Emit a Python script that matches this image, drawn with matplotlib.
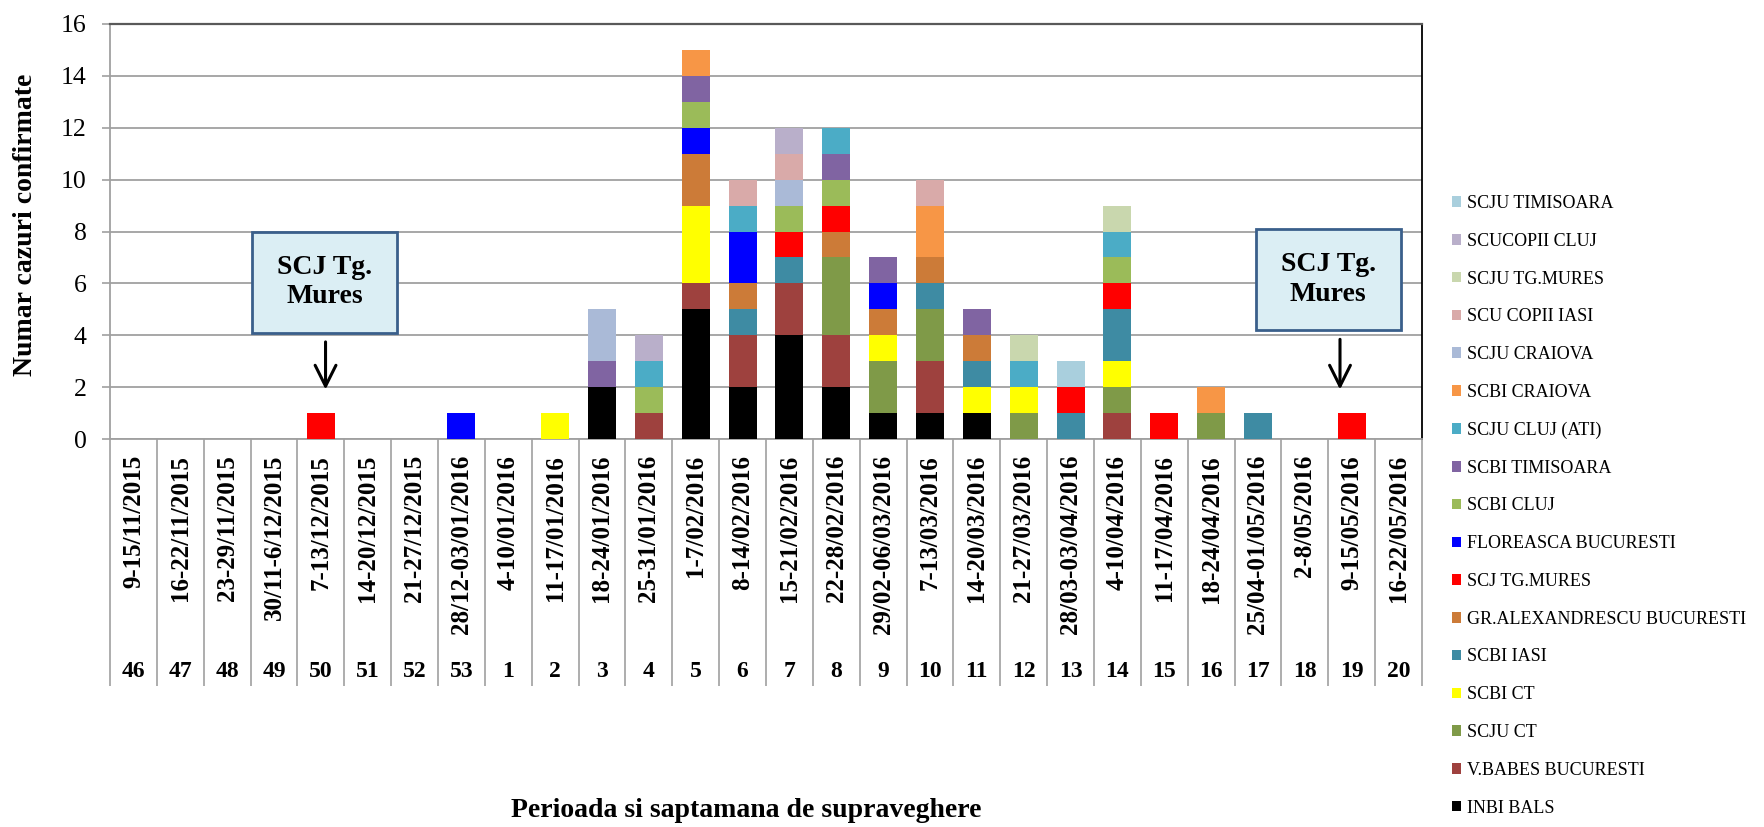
import numpy as np
import matplotlib
matplotlib.use('Agg')
import matplotlib.pyplot as plt
from matplotlib.patches import Rectangle, Patch
from matplotlib.transforms import blended_transform_factory

# surveillance weeks and periods (46/2015 .. 20/2016)
weeks = ['46', '47', '48', '49', '50', '51', '52', '53', '1', '2', '3', '4', '5', '6',
         '7', '8', '9', '10', '11', '12', '13', '14', '15', '16', '17', '18', '19', '20']
periods = ['9-15/11/2015', '16-22/11/2015', '23-29/11/2015', '30/11-6/12/2015',
           '7-13/12/2015', '14-20/12/2015', '21-27/12/2015', '28/12-03/01/2016',
           '4-10/01/2016', '11-17/01/2016', '18-24/01/2016', '25-31/01/2016',
           '1-7/02/2016', '8-14/02/2016', '15-21/02/2016', '22-28/02/2016',
           '29/02-06/03/2016', '7-13/03/2016', '14-20/03/2016', '21-27/03/2016',
           '28/03-03/04/2016', '4-10/04/2016', '11-17/04/2016', '18-24/04/2016',
           '25/04-01/05/2016', '2-8/05/2016', '9-15/05/2016', '16-22/05/2016']

# confirmed cases per hospital, stacked bottom -> top
inbi_bals      = [0, 0, 0, 0, 0, 0, 0, 0, 0, 0, 2, 0, 5, 2, 4, 2, 1, 1, 1, 0, 0, 0, 0, 0, 0, 0, 0, 0]
vbabes         = [0, 0, 0, 0, 0, 0, 0, 0, 0, 0, 0, 1, 1, 2, 2, 2, 0, 2, 0, 0, 0, 1, 0, 0, 0, 0, 0, 0]
scju_ct        = [0, 0, 0, 0, 0, 0, 0, 0, 0, 0, 0, 0, 0, 0, 0, 3, 2, 2, 0, 1, 0, 1, 0, 1, 0, 0, 0, 0]
scbi_ct        = [0, 0, 0, 0, 0, 0, 0, 0, 0, 1, 0, 0, 3, 0, 0, 0, 1, 0, 1, 1, 0, 1, 0, 0, 0, 0, 0, 0]
scbi_iasi      = [0, 0, 0, 0, 0, 0, 0, 0, 0, 0, 0, 0, 0, 1, 1, 0, 0, 1, 1, 0, 1, 2, 0, 0, 1, 0, 0, 0]
gr_alexandrescu = [0, 0, 0, 0, 0, 0, 0, 0, 0, 0, 0, 0, 2, 1, 0, 1, 1, 1, 1, 0, 0, 0, 0, 0, 0, 0, 0, 0]
scj_tgmures    = [0, 0, 0, 0, 1, 0, 0, 0, 0, 0, 0, 0, 0, 0, 1, 1, 0, 0, 0, 0, 1, 1, 1, 0, 0, 0, 1, 0]
floreasca      = [0, 0, 0, 0, 0, 0, 0, 1, 0, 0, 0, 0, 1, 2, 0, 0, 1, 0, 0, 0, 0, 0, 0, 0, 0, 0, 0, 0]
scbi_cluj      = [0, 0, 0, 0, 0, 0, 0, 0, 0, 0, 0, 1, 1, 0, 1, 1, 0, 0, 0, 0, 0, 1, 0, 0, 0, 0, 0, 0]
scbi_timisoara = [0, 0, 0, 0, 0, 0, 0, 0, 0, 0, 1, 0, 1, 0, 0, 1, 1, 0, 1, 0, 0, 0, 0, 0, 0, 0, 0, 0]
scju_cluj_ati  = [0, 0, 0, 0, 0, 0, 0, 0, 0, 0, 0, 1, 0, 1, 0, 1, 0, 0, 0, 1, 0, 1, 0, 0, 0, 0, 0, 0]
scbi_craiova   = [0, 0, 0, 0, 0, 0, 0, 0, 0, 0, 0, 0, 1, 0, 0, 0, 0, 2, 0, 0, 0, 0, 0, 1, 0, 0, 0, 0]
scju_craiova   = [0, 0, 0, 0, 0, 0, 0, 0, 0, 0, 2, 0, 0, 0, 1, 0, 0, 0, 0, 0, 0, 0, 0, 0, 0, 0, 0, 0]
scu_copii_iasi = [0, 0, 0, 0, 0, 0, 0, 0, 0, 0, 0, 0, 0, 1, 1, 0, 0, 1, 0, 0, 0, 0, 0, 0, 0, 0, 0, 0]
scju_tgmures   = [0, 0, 0, 0, 0, 0, 0, 0, 0, 0, 0, 0, 0, 0, 0, 0, 0, 0, 0, 1, 0, 1, 0, 0, 0, 0, 0, 0]
scu_copii_cluj = [0, 0, 0, 0, 0, 0, 0, 0, 0, 0, 0, 1, 0, 0, 1, 0, 0, 0, 0, 0, 0, 0, 0, 0, 0, 0, 0, 0]
scju_timisoara = [0, 0, 0, 0, 0, 0, 0, 0, 0, 0, 0, 0, 0, 0, 0, 0, 0, 0, 0, 0, 1, 0, 0, 0, 0, 0, 0, 0]

series = [
    ('INBI BALS', inbi_bals, '#000000'),
    ('V.BABES BUCURESTI', vbabes, '#9E413E'),
    ('SCJU CT', scju_ct, '#7F9A48'),
    ('SCBI CT', scbi_ct, '#FFFF00'),
    ('SCBI IASI', scbi_iasi, '#3E8BA3'),
    ('GR.ALEXANDRESCU BUCURESTI', gr_alexandrescu, '#CC7B38'),
    ('SCJ TG.MURES', scj_tgmures, '#FF0000'),
    ('FLOREASCA BUCURESTI', floreasca, '#0000FF'),
    ('SCBI CLUJ', scbi_cluj, '#9BBB59'),
    ('SCBI TIMISOARA', scbi_timisoara, '#8064A2'),
    ('SCJU CLUJ (ATI)', scju_cluj_ati, '#4BACC6'),
    ('SCBI CRAIOVA', scbi_craiova, '#F79646'),
    ('SCJU CRAIOVA', scju_craiova, '#AABAD7'),
    ('SCU COPII IASI', scu_copii_iasi, '#D9AAA9'),
    ('SCJU TG.MURES', scju_tgmures, '#C9D7AE'),
    ('SCUCOPII CLUJ', scu_copii_cluj, '#B9AFCA'),
    ('SCJU TIMISOARA', scju_timisoara, '#A9CFDD'),
]

# callouts: (text, box centre x, box centre y, arrow x, arrow start y, arrow end y)
callouts = [('SCJ Tg.\nMures', 4.08, 6.05, 4.1, 3.85, 1.8),
            ('SCJ Tg.\nMures', 25.5, 6.15, 25.75, 3.95, 1.8)]

plt.rcParams['font.family'] = ['Liberation Serif', 'DejaVu Serif']

fig = plt.figure(figsize=(17.64, 8.27), dpi=100)
ax = fig.add_axes([110 / 1764, 1 - 439 / 827, 1312 / 1764, 415 / 827])

x = np.arange(len(weeks))
bottom = np.zeros(len(weeks))
for name, vals, col in series:
    vals = np.array(vals, dtype=float)
    ax.bar(x, vals, width=0.6, bottom=bottom, color=col, linewidth=0, label=name, zorder=3)
    bottom += vals

ax.set_xlim(-0.5, len(weeks) - 0.5)
ax.set_ylim(0, 16)
ax.set_yticks(np.arange(0, 17, 2))
ax.grid(axis='y', color='#A0A0A0', linewidth=1.3, zorder=0)

for s in ['left', 'bottom']:
    ax.spines[s].set_color('#A0A0A0')
    ax.spines[s].set_linewidth(1.3)
ax.spines['top'].set_color('#595959')
ax.spines['top'].set_linewidth(1.6)
ax.spines['right'].set_color('#000000')
ax.spines['right'].set_linewidth(1.3)

ax.tick_params(axis='y', direction='out', length=5.8, width=1.2, color='#A0A0A0',
               pad=11, labelsize=18.5)

# period labels under bars, with separators between columns
ax.set_xticks(x)
ax.set_xticklabels(periods, rotation=90, fontsize=18, fontweight='bold', va='top')
ax.tick_params(axis='x', which='major', length=0, pad=11.5)
ax.set_xticks(np.arange(-0.5, len(weeks)), minor=True)
ax.tick_params(axis='x', which='minor', length=178, width=1.2, color='#A0A0A0', direction='out')

trans = blended_transform_factory(ax.transData, ax.transAxes)
for i, w in enumerate(weeks):
    ax.text(i, -0.561, w, transform=trans, ha='center', va='center',
            fontsize=17, fontweight='bold')

ax.set_ylabel('Numar cazuri confirmate', fontsize=20, fontweight='bold')
ax.yaxis.label.set_va('center')
ax.yaxis.set_label_coords(-0.0645, 0.516)
ax.set_xlabel('Perioada si saptamana de supraveghere', fontsize=20, fontweight='bold')
ax.xaxis.label.set_va('center')
ax.xaxis.set_label_coords(0.485, -0.894)

# callout boxes with arrows
box_w, box_h = 3.1, 3.9
for txt, bx, by, axx, ay0, ay1 in callouts:
    ax.add_patch(Rectangle((bx - box_w / 2, by - box_h / 2), box_w, box_h,
                           facecolor='#DBEEF4', edgecolor='#3A5F8B', linewidth=2, zorder=5))
    ax.text(bx, by, txt, ha='center', va='center', fontsize=20, fontweight='bold',
            linespacing=1.25, zorder=6)
    ax.annotate('', xy=(axx, ay1), xytext=(axx, ay0),
                arrowprops=dict(arrowstyle='->,head_length=1.5,head_width=0.75',
                                color='black', lw=2.2), zorder=6)

handles = [Patch(facecolor=col, label=name) for name, vals, col in series][::-1]
fig.legend(handles=handles, loc='upper left', bbox_to_anchor=(1452 / 1764, 1 - 195 / 827),
           frameon=False, fontsize=13, handlelength=0.52, handleheight=0.52,
           handletextpad=0.33, labelspacing=1.15, borderpad=0, borderaxespad=0)

fig.savefig('out.png', dpi=100)
